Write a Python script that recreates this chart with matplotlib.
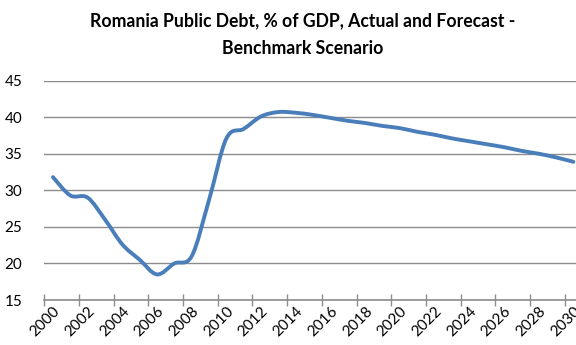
import matplotlib
matplotlib.use("Agg")
import matplotlib.pyplot as plt
from matplotlib.path import Path
from matplotlib.patches import PathPatch
from matplotlib.ticker import FixedLocator, FixedFormatter

# Public debt, % of GDP (actual to 2012, forecast after)
years = list(range(2000, 2031))
debt = [31.8, 29.3, 29.0, 26.0, 22.6, 20.5, 18.5, 20.0, 21.0, 28.7,
        37.1, 38.4, 40.1, 40.7, 40.6, 40.3, 39.9, 39.5, 39.2, 38.8,
        38.5, 38.0, 37.6, 37.1, 36.7, 36.3, 35.9, 35.4, 35.0, 34.5,
        33.9]
y_ticks = [15, 20, 25, 30, 35, 40, 45]

LINE_COLOR = "#4A7EBB"
GRID_COLOR = "#8C8C8C"

plt.rcParams["font.family"] = ["Lato", "DejaVu Sans"]


def smooth_path(xs, ys):
    # Bezier curve through every point, like a spreadsheet "smoothed line"
    pts = list(zip(xs, ys))
    n = len(pts)
    verts = [pts[0]]
    codes = [Path.MOVETO]
    for i in range(n - 1):
        p0 = pts[max(i - 1, 0)]
        p1 = pts[i]
        p2 = pts[i + 1]
        p3 = pts[min(i + 2, n - 1)]
        c1 = (p1[0] + (p2[0] - p0[0]) / 6, p1[1] + (p2[1] - p0[1]) / 6)
        c2 = (p2[0] - (p3[0] - p1[0]) / 6, p2[1] - (p3[1] - p1[1]) / 6)
        verts += [c1, c2, p2]
        codes += [Path.CURVE4] * 3
    return Path(verts, codes)


fig = plt.figure(figsize=(5.76, 3.45), dpi=100)
ax = fig.add_axes([0.0769, 0.1304, 0.9335, 0.636])

idx = list(range(len(years)))
ax.add_patch(PathPatch(smooth_path(idx, debt), facecolor="none",
                       edgecolor=LINE_COLOR, lw=2.8, capstyle="round",
                       joinstyle="round", zorder=3))

ax.set_xlim(-0.5, len(years) - 0.5)
ax.set_ylim(15, 45)

# y axis: gridlines only
ax.set_yticks(y_ticks)
ax.set_yticklabels([str(v) for v in y_ticks])
ax.tick_params(axis="y", length=0, pad=16, labelsize=11, colors="#000000")
ax.grid(axis="y", color=GRID_COLOR, lw=1.0)
ax.set_axisbelow(True)

# x axis: tick marks between categories, labels on even years
ax.xaxis.set_major_locator(FixedLocator([i - 0.5 for i in idx[::2]]))
ax.xaxis.set_major_formatter(FixedFormatter([""] * len(idx[::2])))
ax.xaxis.set_minor_locator(FixedLocator(idx[::2]))
ax.xaxis.set_minor_formatter(FixedFormatter([str(y) for y in years[::2]]))
ax.tick_params(axis="x", which="major", direction="inout", length=8,
               width=1.0, color=GRID_COLOR)
ax.tick_params(axis="x", which="minor", length=0, pad=3, labelsize=11)
for lbl in ax.xaxis.get_minorticklabels():
    lbl.set_rotation(45)
    lbl.set_ha("right")
    lbl.set_va("top")
    lbl.set_rotation_mode("anchor")

for side in ("left", "right", "top"):
    ax.spines[side].set_visible(False)
ax.spines["bottom"].set_color(GRID_COLOR)
ax.spines["bottom"].set_linewidth(1.2)

fig.text(0.526, 0.90, "Romania Public Debt, % of GDP, Actual and Forecast -\nBenchmark Scenario",
         ha="center", va="center", fontsize=12.7, fontweight="bold",
         linespacing=1.75)

fig.savefig("out.png", dpi=100)
